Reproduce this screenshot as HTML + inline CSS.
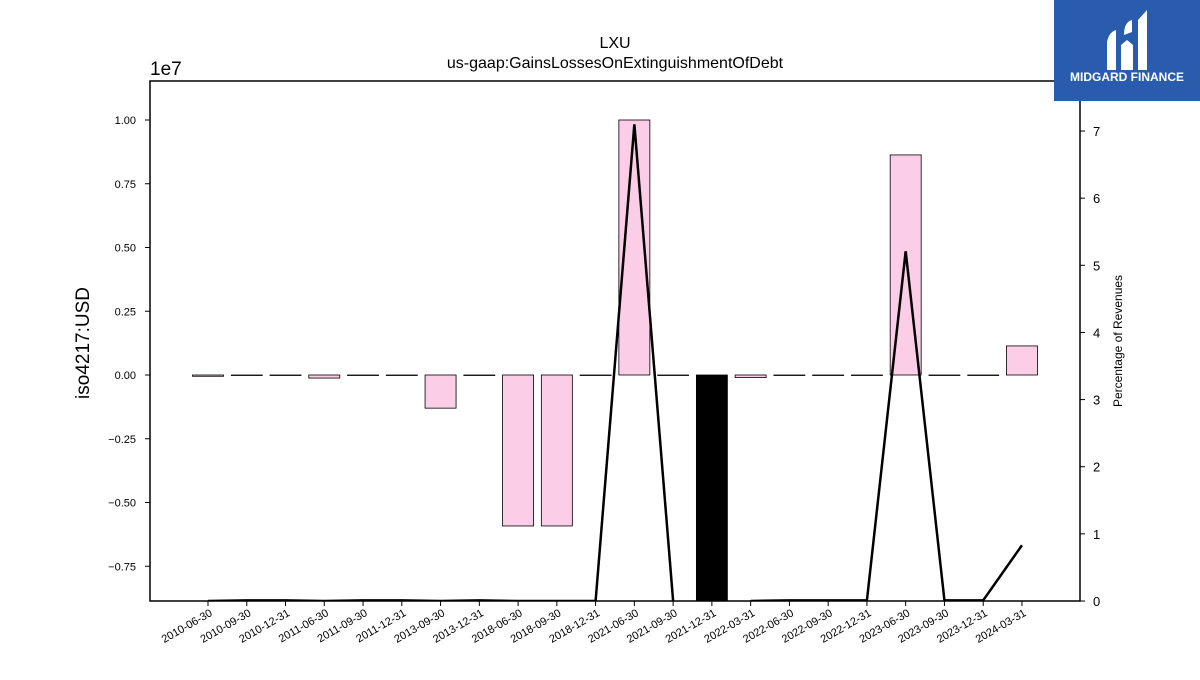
<!DOCTYPE html>
<html><head><meta charset="utf-8"><style>
body{margin:0;background:#fff;width:1200px;height:675px;overflow:hidden;font-family:"Liberation Sans","DejaVu Sans",sans-serif}
</style></head><body>
<svg id="c" width="1200" height="675" xmlns="http://www.w3.org/2000/svg">
<text x="615" y="48" text-anchor="middle" font-size="16">LXU</text>
<text x="615" y="68" text-anchor="middle" font-size="16">us-gaap:GainsLossesOnExtinguishmentOfDebt</text>
<text x="150" y="75" font-size="19">1e7</text>
<text transform="translate(89,343) rotate(-90)" text-anchor="middle" font-size="19">iso4217:USD</text>
<text transform="translate(1122,341) rotate(-90)" text-anchor="middle" font-size="12">Percentage of Revenues</text>
<g id="bars"></g><g id="ax"></g>
<g>
<rect x="1054" y="0" width="146" height="101" fill="#2a5cad"/>
<path d="M1107 70 L1107 42 Q1109 32 1116 30 L1116 70 Z M1121 70 L1121 45 L1127 40 L1133 45 L1133 70 Z M1138 70 L1138 20 L1147 10 L1147 70 Z M1124 35 Q1124 22 1132 20 L1132 32 Z" fill="#fff"/>
<text x="1127" y="81" text-anchor="middle" font-size="12" font-weight="bold" fill="#fff">MIDGARD FINANCE</text>
</g>
</svg>
<script>
const categories=["2010-06-30","2010-09-30","2010-12-31","2011-06-30","2011-09-30","2011-12-31","2013-09-30","2013-12-31","2018-06-30","2018-09-30","2018-12-31","2021-06-30","2021-09-30","2021-12-31","2022-03-31","2022-06-30","2022-09-30","2022-12-31","2023-06-30","2023-09-30","2023-12-31","2024-03-31"];
const values=[-0.005,0,0,-0.012,0,0,-0.13,0,-0.592,-0.592,0,1.0,0,-1.2,-0.01,0,0,0,0.863,0,0,0.114];
const pct=[0,0.01,0.01,0,0.01,0.01,0,0.01,0,0,0,7.1,0,null,0,0.01,0.01,0.01,5.21,0.01,0.01,0.83];
const leftTicks=[-0.75,-0.5,-0.25,0,0.25,0.5,0.75,1.0];
const leftTickLabels=["\u22120.75","\u22120.50","\u22120.25","0.00","0.25","0.50","0.75","1.00"];
const rightTicks=[0,1,2,3,4,5,6,7];
const L=150,R=1080,T=81,B=601;
const yL=v=>375-v*255, yR=v=>601-v*67.14, xC=i=>208+i*38.76;
const NS="http://www.w3.org/2000/svg";
function mk(p,t,a){const e=document.createElementNS(NS,t);for(const k in a)e.setAttribute(k,a[k]);p.appendChild(e);return e;}
const bars=document.getElementById('bars'),ax=document.getElementById('ax');
const cp=mk(bars,'clipPath',{id:'cl'});mk(cp,'rect',{x:L,y:T,width:R-L,height:B-T});
bars.setAttribute('clip-path','url(#cl)');
values.forEach((v,i)=>{const y0=yL(0),y1=yL(v);
const r=mk(bars,'rect',{x:xC(i)-15.5,y:Math.min(y0,y1),width:31,height:Math.max(Math.abs(y1-y0),0.5),fill:v<-1?'#000':'#fccde6',stroke:'#000','stroke-width':0.8});

});
let d='',pen=false;pct.forEach((v,i)=>{if(v===null){pen=false;return;}d+=(pen?'L':'M')+xC(i)+' '+yR(v)+' ';pen=true;});
const ln=mk(bars,'path',{d:d,fill:'none',stroke:'#000','stroke-width':2.5});


const fr=mk(ax,'rect',{x:L,y:T,width:R-L,height:B-T,fill:'none',stroke:'#000','stroke-width':1.5});


leftTicks.forEach((t,i)=>{const y=yL(t);mk(ax,'line',{x1:L-5,x2:L,y1:y,y2:y,stroke:'#000'});
const tx=mk(ax,'text',{x:L-14,y:y+4,'text-anchor':'end','font-size':11});tx.textContent=leftTickLabels[i];

});
rightTicks.forEach(t=>{const y=yR(t);mk(ax,'line',{x1:R,x2:R+5,y1:y,y2:y,stroke:'#000'});
const tx=mk(ax,'text',{x:R+13,y:y+5,'font-size':13});tx.textContent=t;

});
categories.forEach((c,i)=>{const x=xC(i);mk(ax,'line',{x1:x,x2:x,y1:B,y2:B+5,stroke:'#000'});
const tx=mk(ax,'text',{transform:`translate(${x+5},${B+14}) rotate(-30)`,'text-anchor':'end','font-size':11});tx.textContent=c;

});
</script>
</body></html>
